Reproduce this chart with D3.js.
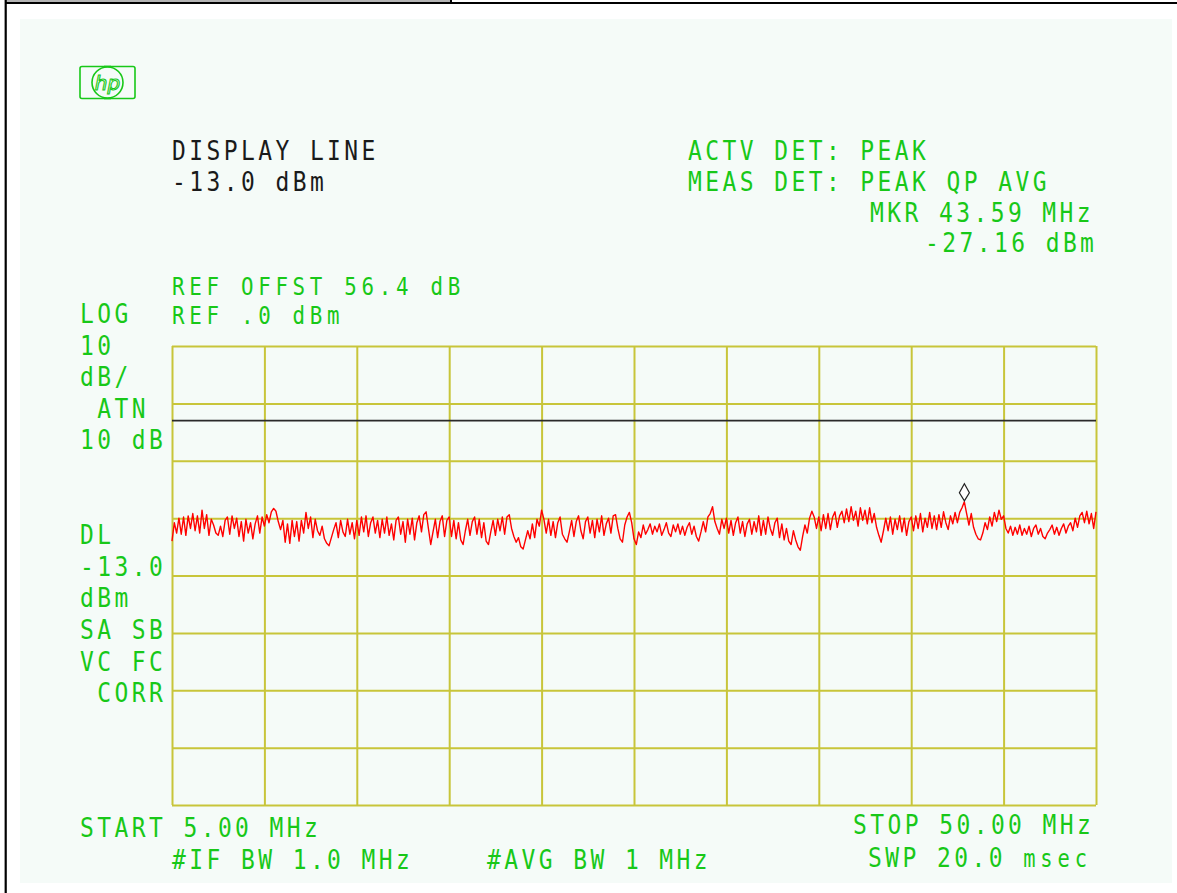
<!DOCTYPE html>
<html><head><meta charset="utf-8">
<script src="https://cdn.jsdelivr.net/npm/d3@7"></script>
<style>html,body{margin:0;padding:0;background:#fff;} svg{display:block} text{white-space:pre}</style>
</head><body><div id="chart"></div>
<script>
// ---- data ----
const startMHz = 5, stopMHz = 50;
const refLevel = 0, dbPerDiv = 10, nDivY = 8, nDivX = 10;
const displayLineDbm = -13.0;
const markerFreq = 43.59, markerDbm = -27.16;

const traceDbm = [
-34.0,-30.8,-32.6,-30.0,-32.8,-29.8,-33.0,-29.6,-31.8,-29.2,
-32.2,-29.6,-32.6,-28.6,-31.8,-29.4,-33.0,-30.2,-31.2,-32.6,
-33.0,-31.4,-33.2,-30.4,-29.8,-32.8,-29.6,-31.8,-30.0,-33.2,
-30.6,-34.0,-30.2,-32.6,-30.8,-33.6,-31.0,-29.6,-32.6,-29.8,
-31.4,-29.4,-30.8,-28.9,-28.3,-28.8,-30.6,-32.0,-30.4,-34.2,
-31.0,-34.4,-30.4,-33.2,-30.6,-34.0,-30.4,-32.6,-29.0,-31.8,
-29.8,-33.4,-30.2,-32.2,-33.0,-31.4,-33.6,-34.4,-34.8,-33.4,
-32.0,-30.8,-33.4,-30.4,-32.4,-33.2,-30.2,-32.8,-30.8,-33.6,
-30.4,-33.0,-29.8,-32.4,-29.6,-33.2,-30.8,-29.8,-32.6,-30.4,
-33.4,-30.2,-32.6,-29.8,-33.0,-31.0,-33.8,-30.4,-29.8,-32.8,
-30.6,-34.2,-30.2,-32.8,-30.0,-33.8,-30.8,-29.6,-32.4,-29.4,
-28.9,-31.8,-34.6,-32.4,-30.2,-33.4,-30.6,-29.6,-33.2,-30.4,
-29.8,-33.2,-30.4,-33.6,-30.8,-33.8,-34.6,-32.2,-30.2,-33.0,
-30.6,-29.8,-32.8,-30.2,-33.4,-30.8,-34.0,-34.6,-32.4,-30.4,
-33.0,-30.2,-32.2,-29.8,-32.8,-29.8,-29.4,-31.8,-33.2,-34.2,
-33.4,-35.0,-35.4,-33.8,-32.2,-33.6,-31.0,-33.4,-30.2,-31.4,
-28.6,-30.2,-32.6,-30.2,-33.0,-30.6,-33.4,-30.8,-29.8,-32.8,
-33.6,-34.2,-32.4,-30.4,-33.2,-30.6,-29.6,-32.2,-33.6,-30.6,
-29.8,-32.6,-30.4,-33.4,-30.2,-32.4,-29.6,-33.0,-31.0,-30.0,
-32.6,-29.6,-29.4,-31.8,-33.6,-34.2,-31.2,-29.8,-29.0,-30.8,
-33.6,-34.6,-32.4,-33.4,-31.2,-32.8,-32.0,-31.0,-32.8,-31.4,
-32.4,-31.0,-33.0,-32.0,-30.8,-32.6,-33.2,-31.2,-32.4,-31.0,
-32.8,-31.4,-33.0,-31.6,-30.8,-32.8,-31.4,-33.2,-34.0,-32.4,
-30.6,-32.4,-29.8,-29.2,-28.0,-30.6,-31.8,-32.8,-30.2,-31.8,
-30.0,-32.6,-30.4,-33.0,-30.8,-29.8,-32.6,-30.6,-33.2,-31.0,
-30.2,-32.8,-30.6,-32.4,-29.6,-33.0,-30.4,-32.8,-29.8,-31.8,
-33.0,-30.8,-30.0,-33.4,-31.0,-33.8,-31.8,-34.0,-34.6,-32.2,
-33.8,-35.0,-35.6,-33.2,-31.2,-32.6,-30.0,-28.8,-29.8,-31.8,
-29.8,-32.2,-29.4,-31.8,-29.2,-32.0,-29.8,-28.9,-31.6,-29.6,
-28.8,-30.8,-28.4,-30.6,-28.0,-30.4,-28.8,-31.4,-28.2,-30.4,
-28.6,-31.0,-28.2,-30.8,-29.2,-31.6,-33.0,-34.2,-32.2,-30.0,
-32.2,-29.8,-32.8,-30.2,-32.0,-29.6,-32.4,-30.0,-33.0,-30.6,
-29.8,-32.2,-29.6,-31.8,-29.2,-32.4,-30.0,-31.6,-29.0,-31.8,
-29.6,-32.0,-29.4,-31.6,-28.9,-30.8,-32.0,-29.6,-31.0,-29.0,
-30.8,-29.0,-28.2,-27.16,-29.2,-31.2,-29.2,-31.6,-32.8,-33.6,
-33.8,-32.6,-30.8,-32.0,-29.8,-31.4,-29.0,-30.6,-28.6,-30.2,
-29.6,-31.8,-32.6,-31.4,-33.0,-31.6,-32.8,-31.2,-33.0,-31.8,
-32.8,-31.4,-33.2,-31.8,-31.2,-32.8,-31.8,-33.2,-33.6,-32.6,
-32.0,-31.2,-32.8,-31.6,-33.0,-31.8,-31.0,-32.6,-31.4,-30.8,
-32.2,-30.0,-31.6,-29.6,-29.0,-30.8,-28.8,-31.0,-29.2,-31.8,
-28.9
];

const topBlackLines = ["DISPLAY LINE", "-13.0 dBm"];
const topRightLines = ["ACTV DET: PEAK", "MEAS DET: PEAK QP AVG"];
const markerLines = ["MKR 43.59 MHz", "-27.16 dBm"];
const refLines = ["REF OFFST 56.4 dB", "REF .0 dBm"];
const leftLines = ["LOG", "10", "dB/", " ATN", "10 dB", "", "", "DL", "-13.0", "dBm", "SA SB", "VC FC", " CORR"];
const startLabel = "START 5.00 MHz";
const stopLabel = "STOP 50.00 MHz";
const ifbwLabel = "#IF BW 1.0 MHz";
const avgbwLabel = "#AVG BW 1 MHz";
const swpLabel = "SWP 20.0 ";
const swpUnit = "msec";

// ---- layout ----
const W = 1177, H = 893;
const GREEN = "#18c818", BLACK = "#1a1a1a", GRID = "#c8c53a", BG = "#f5fbf8";
const plot = {x0: 172, x1: 1096, y0: 346, y1: 805};
const PITCH = 17.24, SX = 0.85;

const svg = d3.select("#chart").append("svg").attr("width", W).attr("height", H);
svg.append("rect").attr("width", W).attr("height", H).attr("fill", "#fff");

// frame
svg.append("rect").attr("x", 20).attr("y", 19).attr("width", 1152).attr("height", 864).attr("fill", BG);
svg.append("rect").attr("x", 6).attr("y", 0).attr("width", 446).attr("height", 2.2).attr("fill", "#b4b4b4");
svg.append("rect").attr("x", 6).attr("y", 2).attr("width", W - 6).attr("height", 2).attr("fill", "#000");
svg.append("rect").attr("x", 450).attr("y", 0).attr("width", 2).attr("height", 4).attr("fill", "#000");
svg.append("rect").attr("x", 4.6).attr("y", 0).attr("width", 2.2).attr("height", H).attr("fill", "#000");

// scales
const x = d3.scaleLinear().domain([startMHz, stopMHz]).range([plot.x0, plot.x1]);
const y = d3.scaleLinear().domain([refLevel - dbPerDiv * nDivY, refLevel]).range([plot.y1, plot.y0]);

// grid
const xTicks = d3.range(nDivX + 1).map(i => startMHz + i * (stopMHz - startMHz) / nDivX);
const yTicks = d3.range(nDivY + 1).map(i => refLevel - i * dbPerDiv);
const g = svg.append("g");
g.append("g").attr("transform", `translate(0,${plot.y1})`)
  .call(d3.axisBottom(x).tickValues(xTicks).tickSize(-(plot.y1 - plot.y0)).tickFormat(""))
  .call(s => s.select(".domain").remove())
  .call(s => s.selectAll("line").attr("stroke", GRID).attr("stroke-width", 2));
g.append("g").attr("transform", `translate(${plot.x0},0)`)
  .call(d3.axisLeft(y).tickValues(yTicks).tickSize(-(plot.x1 - plot.x0)).tickFormat(""))
  .call(s => s.select(".domain").remove())
  .call(s => s.selectAll("line").attr("stroke", GRID).attr("stroke-width", 2));

// display line
svg.append("line").attr("x1", plot.x0).attr("x2", plot.x1)
  .attr("y1", y(displayLineDbm)).attr("y2", y(displayLineDbm))
  .attr("stroke", "#2a2a2a").attr("stroke-width", 1.8);

// trace
const fStep = (stopMHz - startMHz) / (traceDbm.length - 1);
const line = d3.line().x((d, i) => x(startMHz + i * fStep)).y(d => y(d));
svg.append("path").datum(traceDbm).attr("d", line)
  .attr("fill", "none").attr("stroke", "#ff0000").attr("stroke-width", 1.4).attr("stroke-linejoin", "round");

// marker
const mx = x(markerFreq), my = y(markerDbm);
svg.append("path")
  .attr("d", `M${mx},${my - 1} L${mx + 5},${my - 9} L${mx},${my - 18} L${mx - 5},${my - 9} Z`)
  .attr("fill", "#fff").attr("stroke", "#222").attr("stroke-width", 1.2);

// text helper: narrow HP-like monospace glyphs
function txt(str, tx, ty, color, size) {
  const fs = size || 27;
  const ls = PITCH / SX - 0.602 * fs;
  const grp = svg.append("g").attr("transform", `translate(${tx},${ty}) scale(${SX},1)`);
  return grp.append("text").attr("x", 0).attr("y", 0)
    .attr("font-family", "'DejaVu Sans Mono', monospace")
    .attr("font-size", fs).attr("letter-spacing", ls)
    .attr("fill", color)
    .text(str);
}

topBlackLines.forEach((s, i) => txt(s, 172, 160 + i * 31, BLACK));
topRightLines.forEach((s, i) => txt(s, 688, 160 + i * 30.5, GREEN));
txt(markerLines[0], 870, 222, GREEN);
txt(markerLines[1], 925, 252, GREEN);
txt(refLines[0], 172, 295, GREEN, 24.5);
txt(refLines[1], 172, 324, GREEN, 24.5);
leftLines.forEach((s, i) => { if (s) txt(s, 80, 323 + i * 31.6, GREEN); });
txt(startLabel, 80, 837, GREEN);
txt(stopLabel, 853, 834, GREEN);
txt(ifbwLabel, 172, 869, GREEN);
txt(avgbwLabel, 487, 869, GREEN);
const sw = txt(swpLabel, 868, 867, GREEN);
sw.append("tspan").attr("font-size", 24).attr("letter-spacing", PITCH / SX - 0.602 * 24).text(swpUnit);

// HP logo
const logo = svg.append("g").attr("fill", "none").attr("stroke", GREEN).attr("stroke-width", 1.6);
logo.append("rect").attr("x", 80).attr("y", 66.5).attr("width", 55).attr("height", 32).attr("rx", 2);
logo.append("circle").attr("cx", 107.5).attr("cy", 82.5).attr("r", 15.5).attr("fill", BG);
logo.append("line").attr("x1", 104).attr("y1", 66.5).attr("x2", 111).attr("y2", 66.5);
logo.append("line").attr("x1", 104).attr("y1", 98.5).attr("x2", 111).attr("y2", 98.5);
svg.append("text").attr("x", 107.5).attr("y", 90).attr("text-anchor", "middle")
  .attr("font-family", "'DejaVu Sans', sans-serif").attr("font-style", "italic")
  .attr("font-size", 20).attr("fill", "none").attr("stroke", GREEN).attr("stroke-width", 1.1)
  .text("hp");
</script>
</body></html>
